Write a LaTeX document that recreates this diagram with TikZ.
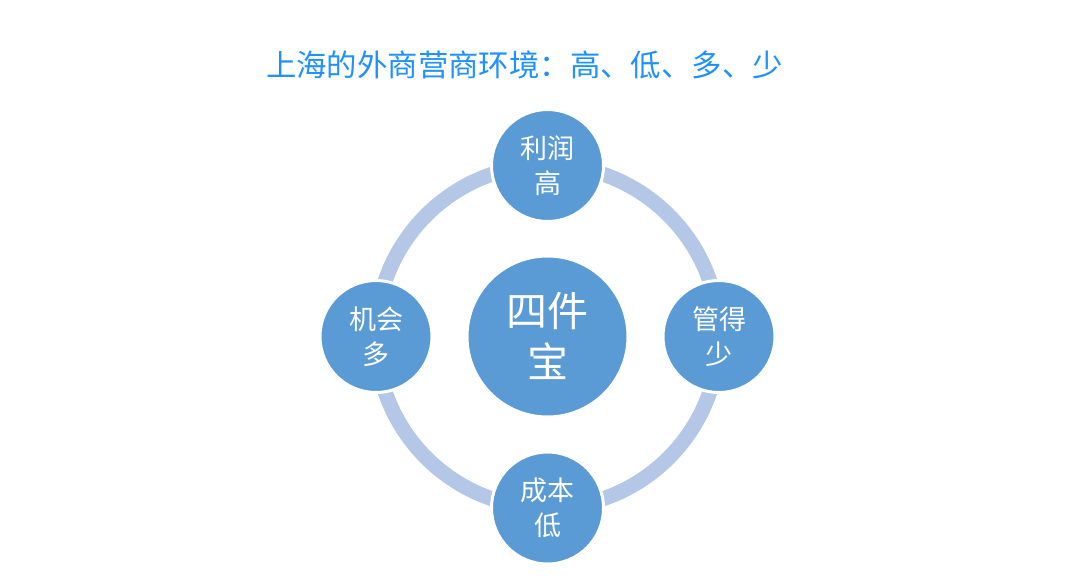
\documentclass[tikz,border=0pt]{standalone}
\usepackage{fontspec}
\newfontfamily\cjk{Noto Sans CJK SC}
\definecolor{ringc}{RGB}{180,199,231}
\definecolor{nodec}{RGB}{91,155,213}
\definecolor{titlec}{RGB}{30,144,255}
\begin{document}
\begin{tikzpicture}[x=1pt,y=-1pt,
  bub/.style={circle, fill=nodec, draw=white, line width=3pt, minimum size=112pt, inner sep=0pt,
    text=white, font=\cjk\fontsize{27}{35}\selectfont, align=center},
  hub/.style={circle, fill=nodec, draw=white, line width=3pt, minimum size=161pt, inner sep=0pt,
    text=white, font=\cjk\fontsize{41}{51}\selectfont, align=center},
  ringline/.style={draw=ringc, line width=15pt}]
\useasboundingbox (0,0) rectangle (1069,586);
\node[font=\cjk\fontsize{30.4}{35}\selectfont, text=titlec] (title) at (524.5,65) {上海的外商营商环境：高、低、多、少};
\coordinate (c) at (547.5,336.5);
\draw[ringline] (c) circle (171.5pt);
\node[hub] (hub) at (c) {\raisebox{3pt}{四件}\\\raisebox{3pt}{宝}};
\node[bub] (top) at (547.5,165.5) {利润\\高};
\node[bub] (right) at (719,336.5) {管得\\少};
\node[bub] (bottom) at (547.5,508) {成本\\低};
\node[bub] (left) at (376,336.5) {机会\\多};
\end{tikzpicture}
\end{document}
